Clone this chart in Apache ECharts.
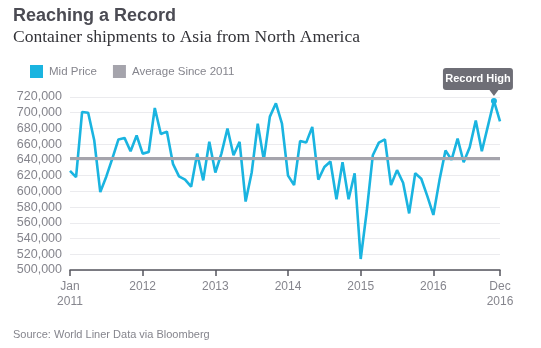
<!DOCTYPE html>
<html>
<head>
<meta charset="utf-8">
<script src="https://cdn.jsdelivr.net/npm/echarts@6/dist/echarts.min.js"></script>
<style>
html,body{margin:0;padding:0;background:#fff;}
#c{width:541px;height:348px;}
</style>
</head>
<body>
<div id="c"></div>
<script>
const titleText = 'Reaching a Record';
const subtitleText = 'Container shipments to Asia from North America';
const sourceText = 'Source: World Liner Data via Bloomberg';
const years = [2011, 2012, 2013, 2014, 2015, 2016];
const monthNames = ['Jan','Feb','Mar','Apr','May','Jun','Jul','Aug','Sep','Oct','Nov','Dec'];
const midPrice = [
  626000, 618000, 701000, 700000, 665000, 599000, 619000, 642000, 666000, 668000, 651000, 671000,
  648000, 650000, 706000, 673000, 676000, 635000, 619000, 615000, 606000, 648000, 614000, 663000,
  624000, 648000, 680000, 646000, 663000, 587000, 624000, 686000, 640000, 695000, 712000, 686000,
  620000, 608000, 664000, 662000, 682000, 615000, 631000, 638000, 590000, 637000, 590000, 623000,
  514000, 575000, 646000, 662000, 666000, 608000, 627000, 611000, 572000, 623000, 616000, 594000,
  570000, 614000, 652000, 640000, 667000, 637000, 656000, 690000, 651000, 683000, 715000, 689000
];
const averageSince2011 = 642000;
const yMin = 500000, yMax = 720000, yStep = 20000;
const recordLabel = 'Record High';

const categories = [];
years.forEach(y => monthNames.forEach(m => categories.push(m + ' ' + y)));

let maxIdx = 0;
midPrice.forEach((v, i) => { if (v > midPrice[maxIdx]) maxIdx = i; });
const recordCoord = [categories[maxIdx], midPrice[maxIdx]];

const cyan = '#1ab4e0';
const grey = '#a5a4ac';
const labelGrey = '#85858d';
const boxGrey = '#6e6e76';
const lastIdx = categories.length - 1;

const showTick = (i) => i % 12 === 0 || i === lastIdx;

const chart = echarts.init(document.getElementById('c'), null, {renderer: 'canvas'});
chart.setOption({
  animation: false,
  backgroundColor: '#fff',
  title: [
    {text: titleText, left: 13, top: 7, padding: 0, textStyle: {fontFamily: 'Liberation Sans', fontWeight: 'bold', fontSize: 18, color: '#4b4b53'}},
    {text: subtitleText, left: 13, top: 28, padding: 0, textStyle: {fontFamily: 'Liberation Serif', fontWeight: 'normal', fontSize: 17.5, color: '#333338'}},
    {text: sourceText, left: 13, top: 329, padding: 0, textStyle: {fontFamily: 'Liberation Sans', fontWeight: 'normal', fontSize: 11, color: labelGrey}}
  ],
  legend: {
    left: 30, top: 65, padding: 0,
    icon: 'rect', itemWidth: 13, itemHeight: 13, itemGap: 16,
    textStyle: {fontFamily: 'Liberation Sans', fontSize: 11.5, color: labelGrey, padding: [0, 0, 0, 1]},
    data: ['Mid Price', 'Average Since 2011']
  },
  grid: {left: 70, right: 41, top: 97, bottom: 78, containLabel: false},
  xAxis: {
    type: 'category',
    data: categories,
    boundaryGap: false,
    axisLine: {lineStyle: {color: '#55555d', width: 1.5}},
    axisTick: {show: true, alignWithLabel: true, interval: showTick, length: 6, lineStyle: {color: '#55555d', width: 1.5}},
    axisLabel: {
      interval: showTick,
      margin: 9,
      fontFamily: 'Liberation Sans', fontSize: 12, color: labelGrey, lineHeight: 15,
      formatter: (val, i) => {
        if (i === 0 || i === lastIdx) return val.replace(' ', '\n');
        return val.split(' ')[1];
      }
    },
    splitLine: {show: false}
  },
  yAxis: {
    type: 'value',
    min: yMin, max: yMax, interval: yStep,
    axisLine: {show: false},
    axisTick: {show: false},
    axisLabel: {
      margin: 8,
      fontFamily: 'Liberation Sans', fontSize: 12.5, color: labelGrey,
      formatter: v => v.toLocaleString('en-US')
    },
    splitLine: {lineStyle: {color: '#ebebee', width: 1}}
  },
  series: [
    {
      name: 'Mid Price',
      type: 'line',
      data: midPrice,
      symbol: 'none',
      itemStyle: {color: cyan},
      lineStyle: {color: cyan, width: 2.6},
      z: 3,
      markPoint: {
        silent: true,
        data: [
          {coord: recordCoord, symbol: 'circle', symbolSize: 6, itemStyle: {color: cyan}, label: {show: false}},
          {coord: recordCoord, symbol: 'path://M0,0L10,0L5,6Z', symbolSize: [9, 6], symbolOffset: [0, -8], itemStyle: {color: boxGrey},
            label: {show: true, position: 'top', distance: 0, offset: [-16, 0], formatter: recordLabel,
              color: '#fff', fontFamily: 'Liberation Sans', fontWeight: 'bold', fontSize: 11, lineHeight: 12,
              backgroundColor: boxGrey, borderRadius: 3, padding: [5, 0, 5, 0], width: 70, align: 'center'}}
        ]
      }
    },
    {
      name: 'Average Since 2011',
      type: 'line',
      data: [],
      symbol: 'none',
      itemStyle: {color: grey},
      lineStyle: {color: grey, width: 3},
      z: 2,
      markLine: {
        silent: true,
        symbol: ['none', 'none'],
        label: {show: false},
        lineStyle: {color: grey, width: 3, type: 'solid'},
        data: [{yAxis: averageSince2011}]
      }
    }
  ]
});
</script>
</body>
</html>
